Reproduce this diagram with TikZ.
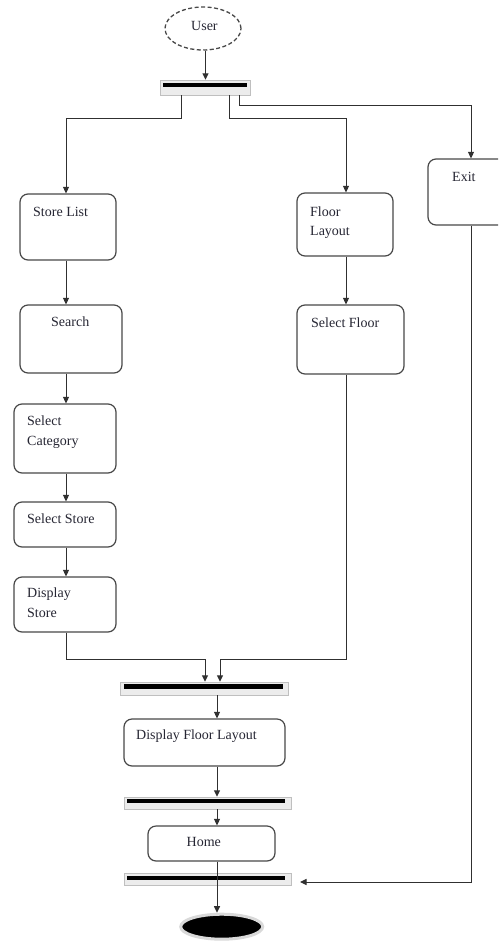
\documentclass[tikz,border=0pt]{standalone}
\usepackage{fontspec}
\setmainfont{Liberation Serif}
\usetikzlibrary{arrows.meta,shapes.geometric}
\definecolor{lncol}{HTML}{303030}
\definecolor{bxcol}{HTML}{484848}
\definecolor{txcol}{HTML}{262633}
\begin{document}
\begin{tikzpicture}[x=1pt,y=-1pt,
  box/.style={draw=bxcol, line width=1.2pt, rounded corners=8pt, inner sep=0pt, fill=white},
  txt/.style={font=\fontsize{14}{17}\selectfont, text=txcol, inner sep=0pt, anchor=base west},
  arr/.style={draw=lncol, line width=1pt, -{Triangle[length=6.5pt,width=6pt]}},
  barblack/.style={fill=black, inner sep=0pt},
  barshadow/.style={fill=gray!15, draw=gray!50, line width=0.5pt, inner sep=0pt},
]
\useasboundingbox (0,0) rectangle (498,945);
\clip (0,0) rectangle (498,945);

% start node
\node[ellipse, draw=bxcol, dash pattern=on 4pt off 2.5pt, line width=1.3pt, minimum width=76pt, minimum height=43pt, inner sep=0pt] (user) at (203,28.5) {};
\node[txt] (tUser) at (191,30.5) {User};

% bars
\node[barshadow, minimum width=90pt, minimum height=15pt] (b1s) at (205,87.5) {};
\node[barblack, minimum width=84pt, minimum height=4.7pt] (b1) at (204.7,85) {};
\node[barshadow, minimum width=168pt, minimum height=13pt] (b2s) at (204,688.5) {};
\node[barblack, minimum width=159pt, minimum height=5pt] (b2) at (203.5,686.5) {};
\node[barshadow, minimum width=167pt, minimum height=12pt] (b3s) at (207.5,803) {};
\node[barblack, minimum width=158pt, minimum height=4.5pt] (b3) at (206,801) {};
\node[barshadow, minimum width=167pt, minimum height=12pt] (b4s) at (207.5,879) {};
\node[barblack, minimum width=158pt, minimum height=4.5pt] (b4) at (206,878) {};

% activity boxes
\node[box, minimum width=96pt, minimum height=66pt] (storelist) at (68,227) {};
\node[txt] (tStoreList) at (33,216.5) {Store List};
\node[box, minimum width=102pt, minimum height=68pt] (search) at (71,339) {};
\node[txt] (tSearch) at (51,326.5) {Search};
\node[box, minimum width=102pt, minimum height=69pt] (selcat) at (65,438.5) {};
\node[txt] (tSelCat1) at (27,425) {Select};
\node[txt] (tSelCat2) at (27,445) {Category};
\node[box, minimum width=102pt, minimum height=45pt] (selstore) at (65,524.5) {};
\node[txt] (tSelStore) at (27,523) {Select Store};
\node[box, minimum width=102pt, minimum height=55pt] (dispstore) at (65,604.5) {};
\node[txt] (tDisp1) at (27,597) {Display};
\node[txt] (tDisp2) at (27,617.5) {Store};

\node[box, minimum width=96pt, minimum height=63pt] (floorlayout) at (345,224.5) {};
\node[txt] (tFL1) at (310,216) {Floor};
\node[txt] (tFL2) at (310,235.5) {Layout};
\node[box, minimum width=107pt, minimum height=69pt] (selfloor) at (350.5,339.5) {};
\node[txt] (tSelFloor) at (311,327) {Select Floor};

\node[box, minimum width=92pt, minimum height=66pt] (exit) at (474,192) {};
\node[txt] (tExit) at (452,181) {Exit};

\node[box, minimum width=161pt, minimum height=47pt] (dfl) at (204.5,742.5) {};
\node[txt] (tDFL) at (136,739.5) {Display Floor Layout};
\node[box, minimum width=127pt, minimum height=35pt] (home) at (211.5,843.5) {};
\node[txt] (tHome) at (186.5,846) {Home};

% end node
\node[ellipse, fill=black, draw=gray!30, line width=3pt, minimum width=82pt, minimum height=25pt, inner sep=0pt] (endnode) at (221.7,926.7) {};

% columns
\coordinate (colU) at (205.5,0);
\coordinate (colL) at (66,0);
\coordinate (colM) at (346,0);
\coordinate (colR) at (471,0);
\coordinate (colC) at (217,0);
\coordinate (o1) at (181,0);
\coordinate (o2) at (229,0);
\coordinate (o3) at (239,0);
\coordinate (m1) at (205,659);
\coordinate (m2) at (220,659);
\coordinate (e4) at (300,882);

% connectors
\draw[arr] (user.south -| colU) -- (b1s.north -| colU);
\draw[arr] (b1s.south -| o1) -- ++(0,23) -| (storelist.north -| colL);
\draw[arr] (b1s.south -| o2) -- ++(0,23) -| (floorlayout.north -| colM);
\draw[arr] (b1s.south -| o3) -- ++(0,10) -| (exit.north -| colR);

\draw[arr] (storelist.south -| colL) -- (search.north -| colL);
\draw[arr] (search.south -| colL) -- (selcat.north -| colL);
\draw[arr] (selcat.south -| colL) -- (selstore.north -| colL);
\draw[arr] (selstore.south -| colL) -- (dispstore.north -| colL);
\draw[arr] (floorlayout.south -| colM) -- (selfloor.north -| colM);

\draw[arr] (dispstore.south -| colL) |- (m1) -- (m1 |- b2s.north);
\draw[arr] (selfloor.south -| colM) |- (m2) -- (m2 |- b2s.north);

\draw[arr] (b2s.south -| colC) -- (dfl.north -| colC);
\draw[arr] (dfl.south -| colC) -- (b3s.north -| colC);
\draw[arr] (b3s.south -| colC) -- (home.north -| colC);
\draw[arr] (home.south -| colC) -- (endnode.north -| colC);

\draw[arr] (exit.south -| colR) |- (e4);
\end{tikzpicture}
\end{document}
